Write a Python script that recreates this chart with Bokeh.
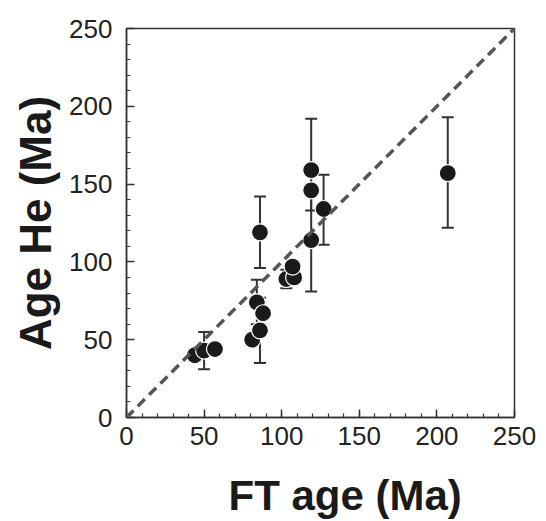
from bokeh.plotting import figure
from bokeh.models import Range1d, SingleIntervalTicker, Whisker, TeeHead, ColumnDataSource, Slope, Title
from bokeh.embed import file_html
from bokeh.resources import INLINE

# data points (FT age, He age)
ft_age = [44, 50, 57, 81, 86, 84, 88, 86, 103, 108, 107, 119, 119, 119, 127, 207]
he_age = [40, 43, 44, 50, 56, 74, 67, 119, 89, 90, 97, 159, 146, 114, 134, 157]

# error bars
err_x = [50, 84, 86, 86, 103, 119, 119, 119, 127, 207]
err_lower = [31, 60, 35, 96, 83, 159, 133, 81, 111, 122]
err_upper = [55, 88.5, 77, 142, 95, 192, 158, 146, 156, 193]

x_title = "FT age (Ma)"
y_title = "Age He (Ma)"

p = figure(frame_width=388, frame_height=389, output_backend="svg", toolbar_location=None,
           x_range=Range1d(0, 250), y_range=Range1d(0, 250),
           min_border_left=126, min_border_right=24, min_border_top=28, min_border_bottom=90)
p.background_fill_color = "white"
p.border_fill_color = "white"
p.xgrid.visible = False
p.ygrid.visible = False
p.outline_line_color = "#333333"
p.outline_line_width = 1.5

for ax in (p.xaxis[0], p.yaxis[0]):
    ax.ticker = SingleIntervalTicker(interval=50, num_minor_ticks=5)
    ax.major_tick_in = 8
    ax.major_tick_out = 0
    ax.minor_tick_in = 4
    ax.minor_tick_out = 0
    ax.axis_line_color = "#333333"
    ax.axis_line_width = 1.5
    ax.major_tick_line_color = "#333333"
    ax.minor_tick_line_color = "#333333"
    ax.major_tick_line_width = 1.5
    ax.minor_tick_line_width = 1.2
    ax.major_label_text_font = "Liberation Sans"
    ax.major_label_text_font_size = "26px"
    ax.major_label_text_color = "#222222"

p.xaxis.major_label_standoff = 9
p.yaxis.major_label_standoff = 14

# spacer below the x tick labels
p.xaxis.axis_label = " "
p.xaxis.axis_label_text_font_size = "12px"
p.xaxis.axis_label_standoff = 2

p.yaxis.axis_label = y_title
p.yaxis.axis_label_text_font = "Liberation Sans"
p.yaxis.axis_label_text_font_style = "bold"
p.yaxis.axis_label_text_font_size = "44px"
p.yaxis.axis_label_text_color = "#1a1a1a"
p.yaxis.axis_label_standoff = 6

# x title, shifted right as in the reference
p.add_layout(Title(text=x_title, align="left", offset=102, standoff=6,
                   text_font="Liberation Sans", text_font_style="bold", text_font_size="42px",
                   text_color="#1a1a1a"), "below")

# 1:1 line
p.add_layout(Slope(gradient=1, y_intercept=0, line_color="#555555", line_width=3.5,
                   line_dash="10 6"))

esrc = ColumnDataSource(dict(x=err_x, lower=err_lower, upper=err_upper))
w = Whisker(base="x", lower="lower", upper="upper", source=esrc,
            line_color="#333333", line_width=2,
            upper_head=TeeHead(size=12, line_color="#333333", line_width=2),
            lower_head=TeeHead(size=12, line_color="#333333", line_width=2))
p.add_layout(w)

src = ColumnDataSource(dict(x=ft_age, y=he_age))
p.scatter("x", "y", source=src, size=17, fill_color="#1a1a1a", line_color="white", line_width=1.2)

open("out.html", "w").write(file_html(p, INLINE))
